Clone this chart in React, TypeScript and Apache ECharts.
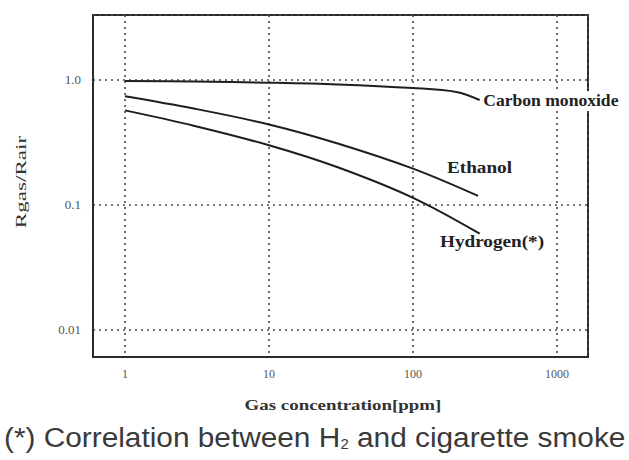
import React, { useEffect, useRef } from "react";
import * as echarts from "echarts";

const coPpm = [1, 3, 10, 30, 100, 200, 290];
const coRatio = [0.98, 0.97, 0.95, 0.92, 0.86, 0.8, 0.69];
const ethanolPpm = [1, 3, 10, 30, 100, 283];
const ethanolRatio = [0.74, 0.59, 0.44, 0.31, 0.195, 0.118];
const hydrogenPpm = [1, 3, 10, 30, 100, 290];
const hydrogenRatio = [0.57, 0.43, 0.3, 0.2, 0.114, 0.059];

const seriesNames = ["Carbon monoxide", "Ethanol", "Hydrogen(*)"];
const xAxisTitle = "Gas concentration[ppm]";
const yAxisTitle = "Rgas/Rair";
const yTickLabels: Record<string, string> = { "0": "1.0", "-1": "0.1", "-2": "0.01" };

const zip = (xs: number[], ys: number[]) => xs.map((x, i) => [x, ys[i]]);

export default function App() {
  const ref = useRef<HTMLDivElement>(null);
  useEffect(() => {
    if (!ref.current) return;
    const chart = echarts.init(ref.current, undefined, { renderer: "svg" });
    const lineStyle = { color: "#1e1e1e", width: 2 };
    const serif = "Liberation Serif";
    const grid = "#4a4a4a";
    const curve = (name: string, xs: number[], ys: number[]) => ({
      name,
      type: "line",
      smooth: 0.35,
      showSymbol: false,
      lineStyle,
      data: zip(xs, ys),
    });
    const labelStyle = { fontFamily: serif, fontSize: 16, fontWeight: "bold", fill: "#222" };
    chart.setOption({
      animation: false,
      backgroundColor: "#ffffff",
      grid: {
        left: 93,
        right: 41,
        top: 15,
        bottom: 103,
        show: true,
        borderColor: "#2a2a2a",
        borderWidth: 2,
      },
      xAxis: {
        type: "log",
        logBase: 10,
        min: 0.6,
        max: 1640,
        axisLine: { show: true, lineStyle: { color: "#2a2a2a", width: 2 } },
        axisTick: { show: false },
        axisLabel: {
          showMinLabel: false,
          showMaxLabel: false,
          margin: 11,
          fontFamily: serif,
          fontSize: 12,
          color: "#555",
          formatter: (v: number) => String(Math.round(v)),
        },
        splitLine: { show: true, lineStyle: { color: grid, type: [2, 4], width: 1.6 } },
      },
      yAxis: {
        type: "log",
        logBase: 10,
        min: 0.00608,
        max: 3.3,
        axisLine: { show: true, lineStyle: { color: "#2a2a2a", width: 1.5 } },
        axisTick: { show: false },
        axisLabel: {
          showMinLabel: false,
          showMaxLabel: false,
          margin: 12,
          fontFamily: serif,
          fontSize: 13,
          color: "#555",
          formatter: (v: number) => yTickLabels[String(Math.round(Math.log10(v)))] ?? "",
        },
        splitLine: { show: true, lineStyle: { color: grid, type: [2, 4], width: 1.6 } },
      },
      series: [
        curve(seriesNames[0], coPpm, coRatio),
        curve(seriesNames[1], ethanolPpm, ethanolRatio),
        curve(seriesNames[2], hydrogenPpm, hydrogenRatio),
      ],
      graphic: [
        {
          type: "text",
          x: 481,
          y: 91,
          scaleX: 1.1,
          z: 10,
          style: { ...labelStyle, text: seriesNames[0], backgroundColor: "#fff", padding: [2, 0, 2, 2] },
        },
        { type: "text", x: 447, y: 160, scaleX: 1.2, z: 10, style: { ...labelStyle, text: seriesNames[1] } },
        { type: "text", x: 440, y: 234, scaleX: 1.2, z: 10, style: { ...labelStyle, text: seriesNames[2] } },
        {
          type: "text",
          x: 343,
          y: 405,
          scaleX: 1.35,
          style: {
            text: xAxisTitle,
            fontFamily: serif,
            fontSize: 14,
            fontWeight: "bold",
            fill: "#333",
            align: "center",
            verticalAlign: "middle",
          },
        },
        {
          type: "text",
          x: 21,
          y: 182,
          rotation: Math.PI / 2,
          scaleX: 1.65,
          style: {
            text: yAxisTitle,
            fontFamily: serif,
            fontSize: 14,
            fill: "#333",
            align: "center",
            verticalAlign: "middle",
          },
        },
        {
          type: "text",
          x: 4,
          y: 423,
          scaleX: 1.065,
          style: {
            text: "(*) Correlation between H{sub|2} and cigarette smoke",
            fontFamily: "Liberation Sans",
            fontSize: 28,
            fill: "#3a3a3a",
            rich: { sub: { fontSize: 14, fontFamily: "Liberation Sans", fill: "#3a3a3a", verticalAlign: "bottom", padding: [14, 0, 0, 0] } },
          },
        },
      ],
    });
    return () => chart.dispose();
  }, []);
  return <div ref={ref} style={{ width: 629, height: 460, position: "absolute", left: 0, top: 0 }} />;
}
